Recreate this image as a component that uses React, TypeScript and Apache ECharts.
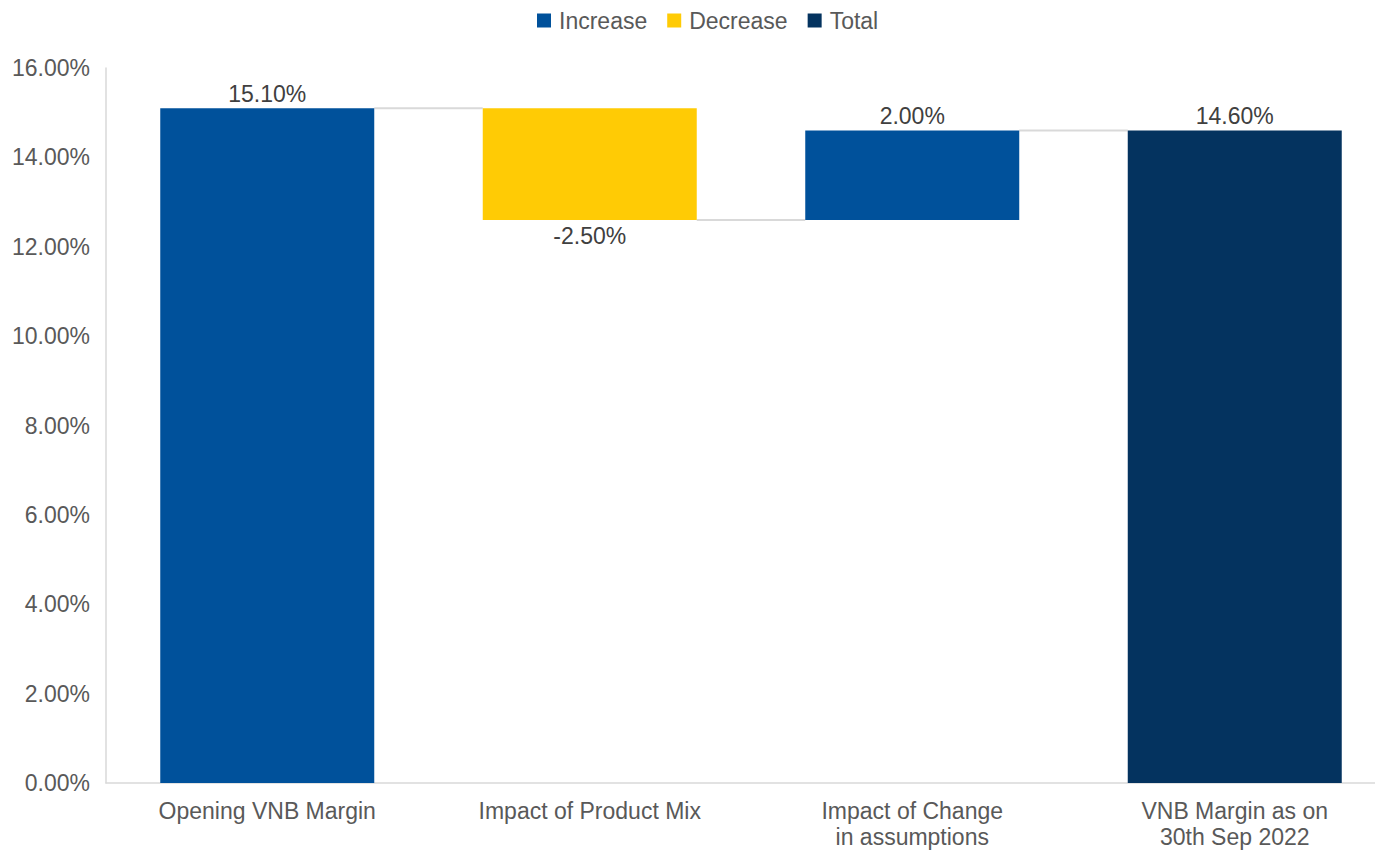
import React, { useEffect, useRef } from "react";
import * as echarts from "echarts";

const categories = [
  "Opening VNB Margin",
  "Impact of Product Mix",
  "Impact of Change\nin assumptions",
  "VNB Margin as on\n30th Sep 2022",
];
const baseValues: (number | string)[] = [0, 12.6, 12.6, 0];
const increaseValues: (number | string)[] = [15.1, "-", 2.0, "-"];
const decreaseValues: (number | string)[] = ["-", 2.5, "-", "-"];
const totalValues: (number | string)[] = ["-", "-", "-", 14.6];
const connectorLevels: number[][] = [
  [0, 15.1],
  [1, 12.6],
  [2, 14.6],
];
const yTicks = { min: 0, max: 16, interval: 2 };

const FONT = "'Liberation Sans', Arial, sans-serif";
const FS = 23;

export default function App() {
  const ref = useRef<HTMLDivElement>(null);
  useEffect(() => {
    if (!ref.current) return;
    const chart = echarts.init(ref.current, null, { renderer: "svg" });
    const labelStyle = { fontSize: FS, color: "#404040", fontFamily: FONT };
    const fmt = (p: any) => Number(p.value).toFixed(2) + "%";
    chart.setOption({
      animation: false,
      textStyle: { fontFamily: FONT },
      legend: {
        data: ["Increase", "Decrease", "Total"],
        top: 4,
        left: 532,
        icon: "rect",
        itemWidth: 14,
        itemHeight: 14,
        itemGap: 20,
        textStyle: { fontSize: FS, color: "#595959", fontFamily: FONT, padding: [0, 0, 0, 3] },
      },
      grid: { left: 106, top: 68, width: 1290, height: 715, containLabel: false },
      xAxis: {
        type: "category",
        data: categories,
        axisLine: { lineStyle: { color: "#d9d9d9", width: 1.5 } },
        axisTick: { show: false },
        axisLabel: {
          interval: 0,
          fontSize: FS,
          color: "#595959",
          margin: 15,
          lineHeight: 26,
          fontFamily: FONT,
        },
      },
      yAxis: {
        type: "value",
        min: yTicks.min,
        max: yTicks.max,
        interval: yTicks.interval,
        axisLine: { show: true, lineStyle: { color: "#d9d9d9", width: 1.5 } },
        axisTick: { show: false },
        splitLine: { show: false },
        axisLabel: {
          fontSize: FS,
          color: "#595959",
          margin: 16,
          fontFamily: FONT,
          formatter: (v: number) => v.toFixed(2) + "%",
        },
      },
      series: [
        {
          name: "base",
          type: "bar",
          stack: "w",
          barWidth: 214,
          data: baseValues,
          itemStyle: { color: "transparent" },
          emphasis: { disabled: true },
          silent: true,
        },
        {
          name: "Increase",
          type: "bar",
          stack: "w",
          barWidth: 214,
          data: increaseValues,
          itemStyle: { color: "#00519b" },
          label: { show: true, position: "top", distance: 3, formatter: fmt, ...labelStyle },
        },
        {
          name: "Decrease",
          type: "bar",
          stack: "w",
          barWidth: 214,
          data: decreaseValues,
          itemStyle: { color: "#ffcb05" },
          label: {
            show: true,
            position: "bottom",
            distance: 5,
            formatter: (p: any) => "-" + Number(p.value).toFixed(2) + "%",
            ...labelStyle,
          },
        },
        {
          name: "Total",
          type: "bar",
          stack: "w",
          barWidth: 214,
          data: totalValues,
          itemStyle: { color: "#04335f" },
          label: { show: true, position: "top", distance: 3, formatter: fmt, ...labelStyle },
        },
        {
          name: "connector",
          type: "custom",
          data: connectorLevels,
          encode: { x: 0, y: 1 },
          silent: true,
          z: 1,
          renderItem: (params: any, api: any) => {
            const i = api.value(0);
            const v = api.value(1);
            const p0 = api.coord([i, v]);
            const p1 = api.coord([i + 1, v]);
            const bw = 214;
            return {
              type: "line",
              shape: { x1: p0[0] + bw / 2, y1: p0[1], x2: p1[0] - bw / 2, y2: p1[1] },
              style: { stroke: "#d9d9d9", lineWidth: 2 },
            };
          },
        },
      ],
    });
    return () => chart.dispose();
  }, []);
  return (
    <div style={{ position: "fixed", left: 0, top: 0, width: 1375, height: 852, overflow: "hidden", background: "#fff" }}>
      <div ref={ref} style={{ width: 1400, height: 852 }} />
    </div>
  );
}
